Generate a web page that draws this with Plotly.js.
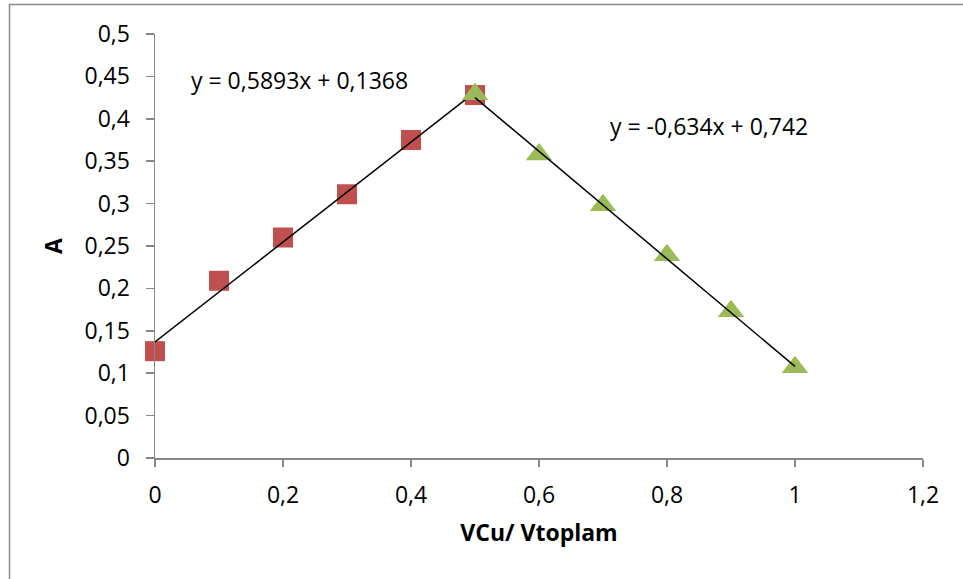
<!DOCTYPE html>
<html>
<head>
<meta charset="utf-8">
<script src="https://cdn.plot.ly/plotly-3.0.1.min.js"></script>
<style>html,body{margin:0;padding:0;background:#fff;}#chart{width:963px;height:579px;}</style>
</head>
<body>
<div id="chart"></div>
<script>
// Data
const redX = [0, 0.1, 0.2, 0.3, 0.4, 0.5];
const redY = [0.126, 0.209, 0.260, 0.311, 0.375, 0.428];
const greenX = [0.5, 0.6, 0.7, 0.8, 0.9, 1.0];
const greenY = [0.429, 0.358, 0.298, 0.239, 0.173, 0.107];
const trend1X = [0, 0.5];
const trend1Y = [0.1368, 0.4315];
const trend2X = [0.5, 1.0];
const trend2Y = [0.425, 0.108];
const eq1 = "y = 0,5893x + 0,1368";
const eq2 = "y = -0,634x + 0,742";
const xTitle = "VCu/ Vtoplam";
const yTitle = "A";

const FONT = "Open Sans, Liberation Sans, sans-serif";
const axisColor = "#878787";
const FS = 23;

const traces = [
  {x: redX, y: redY, type: 'scatter', mode: 'markers', cliponaxis: false,
   marker: {symbol: 'square', size: 20, color: '#C0504D'}, showlegend: false},
  {x: trend1X, y: trend1Y, type: 'scatter', mode: 'lines', cliponaxis: false,
   line: {color: '#000000', width: 1.5}, showlegend: false},
  {x: greenX, y: greenY, type: 'scatter', mode: 'markers', cliponaxis: false,
   marker: {symbol: 'triangle-up', size: 23, color: '#9BBB59'}, showlegend: false},
  {x: trend2X, y: trend2Y, type: 'scatter', mode: 'lines', cliponaxis: false,
   line: {color: '#000000', width: 1.5}, showlegend: false}
];

const layout = {
  width: 963, height: 579,
  margin: {l: 155, r: 40, t: 34, b: 121},
  paper_bgcolor: '#ffffff', plot_bgcolor: '#ffffff',
  separators: ', ',
  font: {family: FONT, size: FS, color: '#000'},
  showlegend: false,
  xaxis: {
    range: [0, 1.2], dtick: 0.2, tick0: 0,
    showgrid: false, zeroline: false,
    showline: true, linecolor: axisColor, linewidth: 1.5,
    ticks: 'outside', ticklen: 7, tickcolor: axisColor, tickwidth: 1.5,
    tickfont: {family: FONT, size: FS, color: '#000'},
    ticklabelstandoff: 9,
    title: {text: xTitle, font: {family: FONT, size: FS, color: '#000', weight: 'bold'}, standoff: 16}
  },
  yaxis: {
    range: [0, 0.5], dtick: 0.05, tick0: 0,
    showgrid: false, zeroline: false,
    showline: true, linecolor: axisColor, linewidth: 1.5,
    ticks: 'outside', ticklen: 8, tickcolor: axisColor, tickwidth: 1.5,
    tickfont: {family: FONT, size: FS, color: '#000'},
    ticklabelstandoff: 11,
    title: {text: yTitle, font: {family: FONT, size: FS, color: '#000', weight: 'bold'}, standoff: 15}
  },
  annotations: [
    {x: 0.225, y: 0.4458, xref: 'x', yref: 'y', text: eq1, showarrow: false,
     font: {family: FONT, size: FS, color: '#000'}},
    {x: 0.866, y: 0.3915, xref: 'x', yref: 'y', text: eq2, showarrow: false,
     font: {family: FONT, size: FS, color: '#000'}}
  ],
  shapes: [
    {type: 'rect', xref: 'paper', yref: 'paper',
     x0: (9.5 - 155) / 768, x1: (975 - 155) / 768,
     y0: (458 - 600) / 424, y1: 1 + (34 - 4.5) / 424,
     line: {color: '#8c8c8c', width: 1.5}, fillcolor: 'rgba(0,0,0,0)', layer: 'below'}
  ]
};

Plotly.newPlot('chart', traces, layout, {displayModeBar: false, staticPlot: true});
</script>
</body>
</html>
